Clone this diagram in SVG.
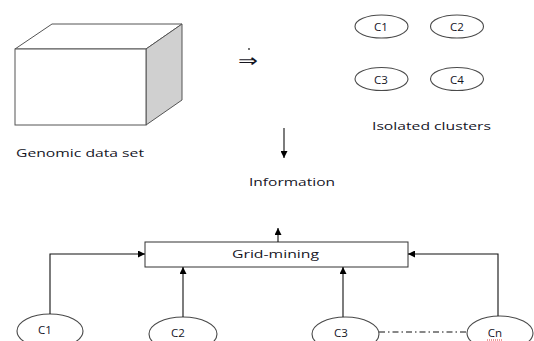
<svg xmlns="http://www.w3.org/2000/svg" width="534" height="341" viewBox="0 0 534 341">
<defs>
<marker id="ah" viewBox="0 0 10 10" refX="10" refY="5" markerWidth="7" markerHeight="7" markerUnits="userSpaceOnUse" orient="auto">
<path d="M0,0 L10,5 L0,10 z" fill="#000"/>
</marker>
</defs>
<style>
text{font-family:"Open Sans","Liberation Sans",sans-serif;fill:#15151f;font-size:11.5px}
.c{text-anchor:middle}
.ell{fill:#fff;stroke:#4a4a4a;stroke-width:1.1}
.ln{fill:none;stroke:#111;stroke-width:1.1}
</style>
<rect width="534" height="341" fill="#fff"/>
<g id="dataset">
<polygon points="15,49 52,24 182,24 146,49" fill="#fff" stroke="#555" stroke-width="1"/>
<polygon points="146,49 182,24 182,100 146,125" fill="#d0d0d0" stroke="#555" stroke-width="1"/>
<rect x="15" y="49" width="131" height="76" fill="#fff" stroke="#555" stroke-width="1"/>
<text x="16" y="157" textLength="128" lengthAdjust="spacingAndGlyphs">Genomic data set</text>
</g>
<g id="implies">
<text x="238" y="67" style="font-family:'DejaVu Sans',sans-serif;font-size:18px" textLength="20" lengthAdjust="spacingAndGlyphs">⇒</text>
<circle cx="249" cy="49" r="0.9" fill="#333"/>
</g>
<g id="clusters">
<ellipse class="ell" cx="381.5" cy="26.5" rx="26.5" ry="11.5"/>
<text x="381" y="31" class="c">C1</text>
<ellipse class="ell" cx="457" cy="26.5" rx="26.5" ry="11.5"/>
<text x="457" y="31" class="c">C2</text>
<ellipse class="ell" cx="381.5" cy="79" rx="26.5" ry="11.5"/>
<text x="381" y="84" class="c">C3</text>
<ellipse class="ell" cx="457" cy="79" rx="26.5" ry="11.5"/>
<text x="457" y="84" class="c">C4</text>
<text x="372" y="130" textLength="119" lengthAdjust="spacingAndGlyphs">Isolated clusters</text>
</g>
<g id="information">
<text x="249" y="186" textLength="86" lengthAdjust="spacingAndGlyphs">Information</text>
</g>
<g id="gridmining">
<rect x="145" y="242" width="263" height="25" fill="#fff" stroke="#333" stroke-width="1"/>
<text x="232" y="258" textLength="87" lengthAdjust="spacingAndGlyphs">Grid-mining</text>
</g>
<g id="c1">
<ellipse class="ell" cx="50" cy="331" rx="33" ry="17"/>
<text x="45" y="334" class="c">C1</text>
</g>
<g id="c2">
<ellipse class="ell" cx="183" cy="334" rx="34" ry="17"/>
<text x="178" y="337" class="c">C2</text>
</g>
<g id="c3">
<ellipse class="ell" cx="345.5" cy="334" rx="33.5" ry="17"/>
<text x="341" y="337" class="c">C3</text>
</g>
<g id="cn">
<ellipse class="ell" cx="500" cy="333" rx="33" ry="17"/>
<text x="495" y="337" class="c">Cn</text>
<line x1="487" y1="340" x2="503" y2="340" stroke="#d33" stroke-width="1" stroke-dasharray="1 1"/>
</g>
<g id="connectors">
<path class="ln" d="M284,128 V158" marker-end="url(#ah)"/>
<path class="ln" d="M278,242 V228" marker-end="url(#ah)"/>
<path class="ln" d="M50,314 V254 H145" marker-end="url(#ah)"/>
<path class="ln" d="M183,317 V267" marker-end="url(#ah)"/>
<path class="ln" d="M343,317 V267" marker-end="url(#ah)"/>
<path class="ln" d="M498,316 V254 H408" marker-end="url(#ah)"/>
<path class="ln" d="M379,332 H467" stroke-dasharray="6 3 1.5 3"/>
</g>
</svg>
